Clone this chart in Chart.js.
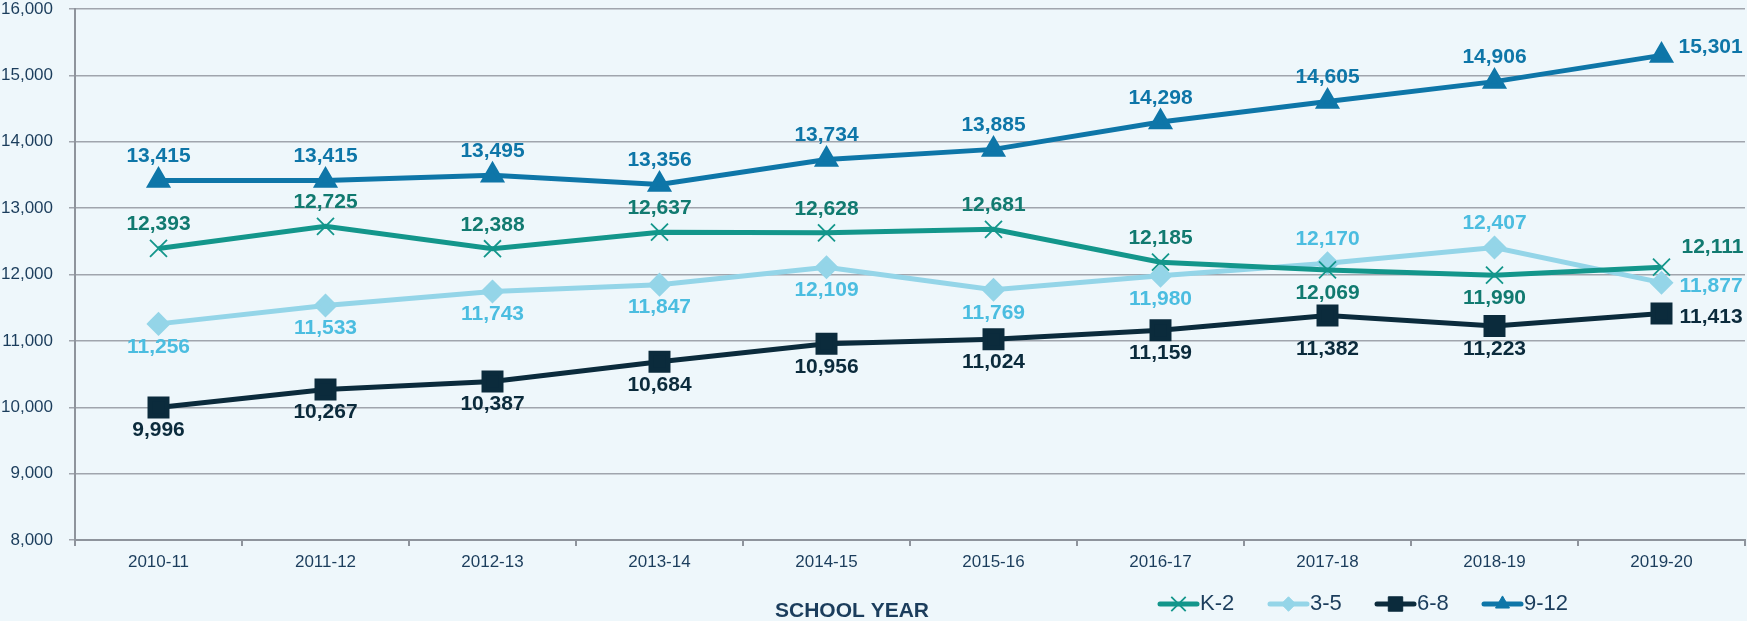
<!DOCTYPE html>
<html>
<head>
<meta charset="utf-8">
<script src="https://cdn.jsdelivr.net/npm/chart.js@4.4.1/dist/chart.umd.min.js"></script>
<style>
  html, body { margin: 0; padding: 0; background: #eef7fb; overflow: hidden; }
  #wrap { width: 1747px; height: 621px; position: relative; }
  canvas { display: block; }
</style>
</head>
<body>
<div id="wrap"><canvas id="enroll"></canvas></div>
<script>
// school years on the x axis
const years = ['2010-11', '2011-12', '2012-13', '2013-14', '2014-15',
               '2015-16', '2016-17', '2017-18', '2018-19', '2019-20'];

// enrollment by grade band
const k2   = [12393, 12725, 12388, 12637, 12628, 12681, 12185, 12069, 11990, 12111];
const g35  = [11256, 11533, 11743, 11847, 12109, 11769, 11980, 12170, 12407, 11877];
const g68  = [9996, 10267, 10387, 10684, 10956, 11024, 11159, 11382, 11223, 11413];
const g912 = [13415, 13415, 13495, 13356, 13734, 13885, 14298, 14605, 14906, 15301];

// where each value label sits: a = above, b = below, bb = further below, r = right
const k2Pos   = ['a', 'a', 'a', 'a', 'a', 'a', 'a', 'b', 'b', 'ru'];
const g35Pos  = ['b', 'b', 'b', 'b', 'b', 'b', 'b', 'a', 'a', 'r'];
const g68Pos  = ['b', 'b', 'b', 'b', 'b', 'b', 'b', 'bb', 'b', 'r'];
const g912Pos = ['a', 'a', 'a', 'a', 'a', 'a', 'a', 'a', 'a', 'ru2'];

const yTicks = [8000, 9000, 10000, 11000, 12000, 13000, 14000, 15000, 16000];

const navy = '#1b3d5c';
const fmt = v => v.toLocaleString('en-US');

// value labels next to the points
const valueLabels = {
    id: 'valueLabels',
    afterDatasetsDraw(chart) {
        const ctx = chart.ctx;
        ctx.save();
        ctx.font = 'bold 21px "Liberation Sans", Arial, sans-serif';
        ctx.textBaseline = 'middle';
        chart.data.datasets.forEach((ds, i) => {
            const meta = chart.getDatasetMeta(i);
            ctx.fillStyle = ds.labelColor;
            meta.data.forEach((pt, j) => {
                const p = ds.labelPos[j];
                let x = pt.x, y = pt.y;
                ctx.textAlign = 'center';
                if (p === 'a') y -= 24;
                else if (p === 'b') y += 23;
                else if (p === 'bb') y += 34;
                else if (p === 'r') { x += 18; y += 4; ctx.textAlign = 'left'; }
                else if (p === 'ru') { x += 20; y -= 20; ctx.textAlign = 'left'; }
                else if (p === 'ru2') { x += 17; y -= 8; ctx.textAlign = 'left'; }
                ctx.fillText(fmt(ds.data[j]), x, y);
            });
        });
        ctx.restore();
    }
};

// axis title and line+marker legend along the bottom row
const bottomRow = {
    id: 'bottomRow',
    afterDraw(chart) {
        const ctx = chart.ctx;
        ctx.save();
        ctx.fillStyle = navy;
        ctx.font = 'bold 21px "Liberation Sans", Arial, sans-serif';
        ctx.textAlign = 'center';
        ctx.textBaseline = 'middle';
        ctx.fillText('SCHOOL YEAR', 852, 611);

        const starts = [1160, 1270, 1377, 1484];
        const ly = 604;
        ctx.font = '22px "Liberation Sans", Arial, sans-serif';
        chart.data.datasets.forEach((ds, i) => {
            const x0 = starts[i];
            ctx.strokeStyle = ds.borderColor;
            ctx.fillStyle = ds.borderColor;
            ctx.lineWidth = 5;
            ctx.lineCap = 'round';
            ctx.beginPath();
            ctx.moveTo(x0, ly);
            ctx.lineTo(x0 + 37, ly);
            ctx.stroke();
            ctx.lineCap = 'butt';
            ctx.lineWidth = ds.pointBorderWidth || 1;
            Chart.helpers.drawPoint(ctx, {
                pointStyle: ds.pointStyle,
                radius: ds.pointRadius * 0.85,
                rotation: ds.pointRotation || 0,
                borderWidth: ds.pointBorderWidth || 1
            }, x0 + 18.5, ly);
            ctx.fillStyle = navy;
            ctx.textAlign = 'left';
            ctx.fillText(ds.label, x0 + 40, ly);
        });
        ctx.restore();
    }
};

function series(label, data, color, labelColor, pos, style, radius, extra) {
    return Object.assign({
        label: label,
        data: data,
        borderColor: color,
        backgroundColor: color,
        pointBackgroundColor: color,
        pointBorderColor: color,
        borderWidth: 5,
        pointStyle: style,
        pointRadius: radius,
        pointHoverRadius: radius,
        tension: 0,
        clip: false,
        labelColor: labelColor,
        labelPos: pos
    }, extra || {});
}

const ctx = document.getElementById('enroll').getContext('2d');
new Chart(ctx, {
    type: 'line',
    data: {
        labels: years,
        datasets: [
            series('K-2', k2, '#13968b', '#117a70', k2Pos, 'cross', 12, { pointBorderWidth: 1.8, pointRotation: 45 }),
            series('3-5', g35, '#94d5e8', '#4bbde0', g35Pos, 'rectRot', 8.5),
            series('6-8', g68, '#0b2b3c', '#0b2b3c', g68Pos, 'rect', 12),
            series('9-12', g912, '#0e76a8', '#0e76a8', g912Pos, 'triangle', 9.5)
        ]
    },
    options: {
        responsive: true,
        maintainAspectRatio: false,
        animation: false,
        layout: { autoPadding: false, padding: { top: 9, right: 2, left: 0, bottom: 0 } },
        plugins: {
            legend: { display: false },
            tooltip: { enabled: false }
        },
        scales: {
            x: {
                offset: true,
                grid: {
                    display: true,
                    drawOnChartArea: false,
                    offset: true,
                    color: '#8e949c',
                    tickLength: 6,
                    lineWidth: 2
                },
                border: { color: '#8e949c', width: 2 },
                ticks: {
                    color: navy,
                    padding: 6,
                    font: { size: 17, family: '"Liberation Sans", Arial, sans-serif' },
                    maxRotation: 0
                },
                afterFit(scale) {
                    scale.height = 81;
                    scale.paddingLeft = 0;
                    scale.paddingRight = 0;
                }
            },
            y: {
                min: 8000,
                max: 16000,
                afterBuildTicks(scale) { scale.ticks = yTicks.map(v => ({ value: v })); },
                grid: {
                    color: '#a0a5ad',
                    lineWidth: 1.5,
                    tickLength: 6
                },
                border: { color: '#8e949c', width: 2 },
                ticks: {
                    color: navy,
                    padding: 16,
                    font: { size: 17, family: '"Liberation Sans", Arial, sans-serif' },
                    callback: v => fmt(v)
                },
                afterFit(scale) {
                    scale.width = 75;
                    scale.paddingTop = 0;
                    scale.paddingBottom = 0;
                }
            }
        }
    },
    plugins: [valueLabels, bottomRow]
});
</script>
</body>
</html>
